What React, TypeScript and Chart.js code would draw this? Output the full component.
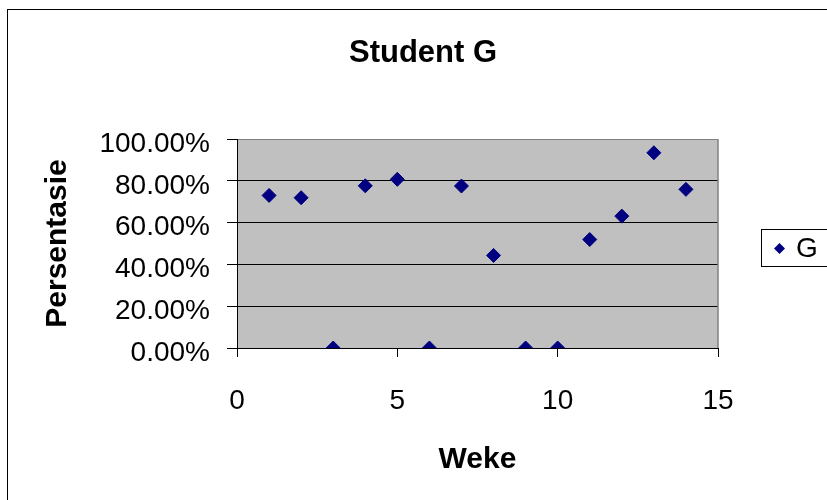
import React, { useEffect, useRef } from "react";
import { Chart, registerables } from "chart.js";

Chart.register(...registerables);

const weeks = [1, 2, 3, 4, 5, 6, 7, 8, 9, 10, 11, 12, 13, 14];
const percentG = [73.0, 71.9, 0, 77.6, 80.7, 0, 77.5, 44.3, 0, 0, 51.9, 63.1, 93.4, 75.9];
const seriesLabel = "G";
const chartTitle = "Student G";
const xTitle = "Weke";
const yTitle = "Persentasie";
const xTicks = [0, 5, 10, 15];
const yTicks = [0, 20, 40, 60, 80, 100];

const FONT = "'Liberation Sans', Arial, sans-serif";
const NAVY = "#000080";

export default function App() {
  const ref = useRef<HTMLCanvasElement | null>(null);

  useEffect(() => {
    const canvas = ref.current;
    if (!canvas) return;

    const decor = {
      id: "decor",
      beforeDraw(chart: any) {
        const { ctx, chartArea: a } = chart;
        ctx.save();
        ctx.fillStyle = "#ffffff";
        ctx.fillRect(0, 0, chart.width, chart.height);
        ctx.fillStyle = "#C0C0C0";
        ctx.fillRect(a.left, a.top, a.right - a.left, a.bottom - a.top);
        ctx.restore();
      },
      beforeDatasetsDraw(chart: any) {
        const { ctx, chartArea: a } = chart;
        ctx.save();
        ctx.strokeStyle = "#808080";
        ctx.lineWidth = 1.5;
        ctx.beginPath();
        ctx.moveTo(a.right, a.top);
        ctx.lineTo(a.right, a.bottom);
        ctx.stroke();
        ctx.restore();
      },
      afterDraw(chart: any) {
        const { ctx } = chart;
        ctx.save();
        // outer chart border
        ctx.strokeStyle = "#000000";
        ctx.lineWidth = 1;
        ctx.strokeRect(7.5, 9.5, 900, 600);
        // legend
        const lx = 761.5, ly = 229.5, lh = 37;
        ctx.strokeRect(lx, ly, 100, lh);
        const cy = ly + lh / 2 + 0.5;
        const cx = 779.5;
        const r = 5.5;
        ctx.fillStyle = NAVY;
        ctx.beginPath();
        ctx.moveTo(cx - r, cy);
        ctx.lineTo(cx, cy - r);
        ctx.lineTo(cx + r, cy);
        ctx.lineTo(cx, cy + r);
        ctx.closePath();
        ctx.fill();
        ctx.fillStyle = "#000000";
        ctx.font = `28px ${FONT}`;
        ctx.textBaseline = "middle";
        ctx.textAlign = "left";
        ctx.fillText(seriesLabel, 796, cy + 1);
        ctx.restore();
      },
    };

    const chart = new Chart(canvas, {
      type: "scatter",
      data: {
        datasets: [
          {
            label: seriesLabel,
            data: weeks.map((w, i) => ({ x: w, y: percentG[i] })),
            backgroundColor: NAVY,
            borderColor: NAVY,
            borderWidth: 1,
            pointStyle: "rectRot",
            pointRadius: 7,
            pointHoverRadius: 7,
          },
        ],
      },
      options: {
        responsive: false,
        animation: false,
        events: [],
        layout: { padding: { left: 20, top: 0, right: 1, bottom: 0 } },
        plugins: {
          legend: { display: false },
          tooltip: { enabled: false },
          title: {
            display: true,
            text: chartTitle,
            color: "#000000",
            font: { family: FONT, size: 31, weight: "bold", lineHeight: 1.2 },
            padding: { top: 35, bottom: 66.8 },
          },
        },
        scales: {
          x: {
            type: "linear",
            min: 0,
            max: 15,
            afterFit(scale: any) {
              scale.height = 152;
            },
            afterBuildTicks(scale: any) {
              scale.ticks = xTicks.map((v) => ({ value: v }));
            },
            ticks: {
              color: "#000000",
              font: { family: FONT, size: 28 },
              padding: 27,
              maxRotation: 0,
              autoSkip: false,
            },
            grid: {
              drawOnChartArea: false,
              drawTicks: true,
              tickLength: 9,
              tickColor: "#000000",
              color: "#000000",
            },
            border: { display: true, color: "#000000", width: 1 },
            title: {
              display: true,
              text: xTitle,
              color: "#000000",
              font: { family: FONT, size: 30, weight: "bold", lineHeight: 1.2 },
              padding: { top: 0, bottom: 22 },
            },
          },
          y: {
            type: "linear",
            min: 0,
            max: 100,
            afterFit(scale: any) {
              scale.width = 217;
            },
            afterBuildTicks(scale: any) {
              scale.ticks = yTicks.map((v) => ({ value: v }));
            },
            ticks: {
              color: "#000000",
              font: { family: FONT, size: 28 },
              padding: 17,
              labelOffset: 5,
              autoSkip: false,
              callback: (v: any) => Number(v).toFixed(2) + "%",
            },
            grid: {
              drawTicks: true,
              tickLength: 10,
              tickColor: "#000000",
              color: (c: any) => (c.tick && c.tick.value === 100 ? "#808080" : "#000000"),
              lineWidth: 1,
            },
            border: { display: true, color: "#000000", width: 1 },
            title: {
              display: true,
              text: yTitle,
              color: "#000000",
              font: { family: FONT, size: 30, weight: "bold", lineHeight: 1.2 },
              padding: { top: 20, bottom: 0 },
            },
          },
          legendSpace: {
            type: "linear",
            position: "right",
            display: true,
            afterFit(scale: any) {
              scale.width = 108;
            },
            ticks: { display: false },
            grid: { display: false, drawTicks: false },
            border: { display: false },
            title: { display: false },
          },
        },
      },
      plugins: [decor],
    } as any);

    return () => chart.destroy();
  }, []);

  return (
    <div style={{ position: "fixed", left: 0, top: 0, width: 827, height: 500, background: "#fff" }}>
      <canvas ref={ref} width={827} height={500} style={{ display: "block" }} />
    </div>
  );
}
